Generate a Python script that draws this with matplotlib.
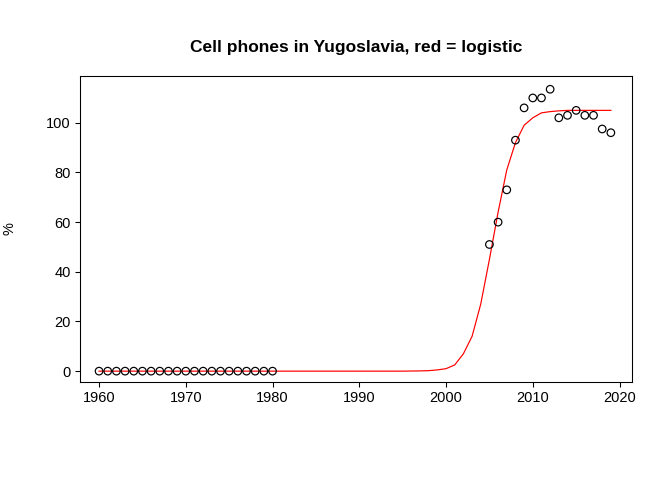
import numpy as np
import matplotlib.pyplot as plt

# observed data
years_obs = list(range(1960, 1981)) + list(range(2005, 2020))
pct_obs = [0] * 21 + [51, 60, 73, 93, 106, 110, 110, 113.5, 102, 103, 105, 103, 103, 97.5, 96]

# fitted logistic curve
years_fit = list(range(1960, 2020))
pct_fit = [0] * 36 + [0.05, 0.1, 0.2, 0.5, 1.0, 2.5, 7, 14, 27, 45, 64, 81, 92, 99,
                      102, 104, 104.5, 104.8, 105, 105, 105, 105, 105, 105]

plt.rcParams['font.family'] = ['Liberation Sans', 'DejaVu Sans']
fig = plt.figure(figsize=(7, 5), dpi=96)
ax = fig.add_axes([0.119, 0.204, 0.821, 0.638])
ax.scatter(years_obs, pct_obs, facecolors='none', edgecolors='black', s=32, linewidths=0.9, zorder=3)
ax.plot(years_fit, pct_fit, color='red', linewidth=0.9)
ax.set_xlim(1957.8, 2021.4)
ax.set_ylim(-4.4, 118.9)
ax.set_xticks(range(1960, 2021, 10))
ax.set_yticks(range(0, 101, 20))
ax.tick_params(labelsize=11)
ax.set_ylabel('%', fontsize=11, labelpad=22)
ax.set_title('Cell phones in Yugoslavia, red = logistic', fontsize=13, fontweight='bold', pad=18)
plt.savefig('out.png', dpi=96)
